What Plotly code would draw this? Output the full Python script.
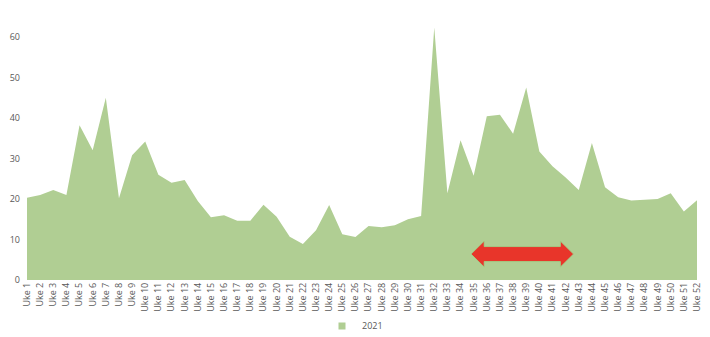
import plotly.graph_objects as go

weeks = [f"Uke {i}" for i in range(1, 53)]
week_num = list(range(1, 53))
values_2021 = [20.3, 21.0, 22.2, 21.0, 38.2, 32.0, 45.0, 20.2, 30.8, 34.2,
               26.0, 24.0, 24.7, 19.5, 15.5, 16.0, 14.6, 14.6, 18.6, 15.6,
               10.7, 8.9, 12.3, 18.5, 11.3, 10.6, 13.3, 13.0, 13.5, 15.0,
               15.8, 62.3, 21.4, 34.5, 25.7, 40.4, 40.8, 36.1, 47.5, 31.7,
               28.1, 25.3, 22.2, 33.8, 22.9, 20.4, 19.6, 19.8, 20.0, 21.4,
               16.9, 19.7]
series_name = "2021"
y_ticks = [0, 10, 20, 30, 40, 50, 60]

# red double-headed arrow annotation (in data units)
arrow_x0, arrow_x1 = 34.8, 42.6
arrow_y = 6.4
arrow_head_len = 1.0
arrow_head_half = 3.2
arrow_shaft_half = 1.85

green = "#B0CE93"
grey = "#595959"

fig = go.Figure()
fig.add_trace(go.Scatter(
    x=week_num, y=values_2021, name=series_name,
    mode="lines", fill="tozeroy", fillcolor=green,
    line=dict(width=0, color=green), showlegend=False,
))
# legend entry (square swatch like Excel)
fig.add_trace(go.Scatter(
    x=[None], y=[None], name=series_name, mode="markers",
    marker=dict(symbol="square", size=7, color=green), showlegend=True,
))

a, b = arrow_x0, arrow_x1
h = arrow_head_len
path = (f"M {a},{arrow_y} "
        f"L {a+h},{arrow_y+arrow_head_half} L {a+h},{arrow_y+arrow_shaft_half} "
        f"L {b-h},{arrow_y+arrow_shaft_half} L {b-h},{arrow_y+arrow_head_half} "
        f"L {b},{arrow_y} "
        f"L {b-h},{arrow_y-arrow_head_half} L {b-h},{arrow_y-arrow_shaft_half} "
        f"L {a+h},{arrow_y-arrow_shaft_half} L {a+h},{arrow_y-arrow_head_half} Z")
fig.add_shape(type="path", path=path, xref="x", yref="y",
              fillcolor="#E8352A", line=dict(color="#9BD88A", width=0.8))

fig.update_layout(
    width=710, height=337,
    margin=dict(l=27, r=13, t=0, b=57, autoexpand=False),
    paper_bgcolor="white", plot_bgcolor="white",
    font=dict(family="Open Sans", size=9, color=grey),
    showlegend=True,
    legend=dict(orientation="h", x=0.5, xanchor="center", xref="container",
                y=0.033, yanchor="middle", yref="container",
                bgcolor="rgba(0,0,0,0)", itemwidth=30,
                tracegroupgap=0, font=dict(size=9, color=grey)),
    xaxis=dict(range=[1, 52], tickvals=week_num, ticktext=weeks, tickangle=-90,
               showgrid=False, zeroline=False, showline=False, ticks="",
               automargin=False, tickfont=dict(size=9, color=grey)),
    yaxis=dict(range=[0, 69.1], tickvals=y_ticks, showgrid=False, zeroline=False,
               showline=False, ticks="", automargin=False, ticklabelstandoff=6,
               tickfont=dict(size=9, color=grey)),
)

fig.write_html("out.html")
